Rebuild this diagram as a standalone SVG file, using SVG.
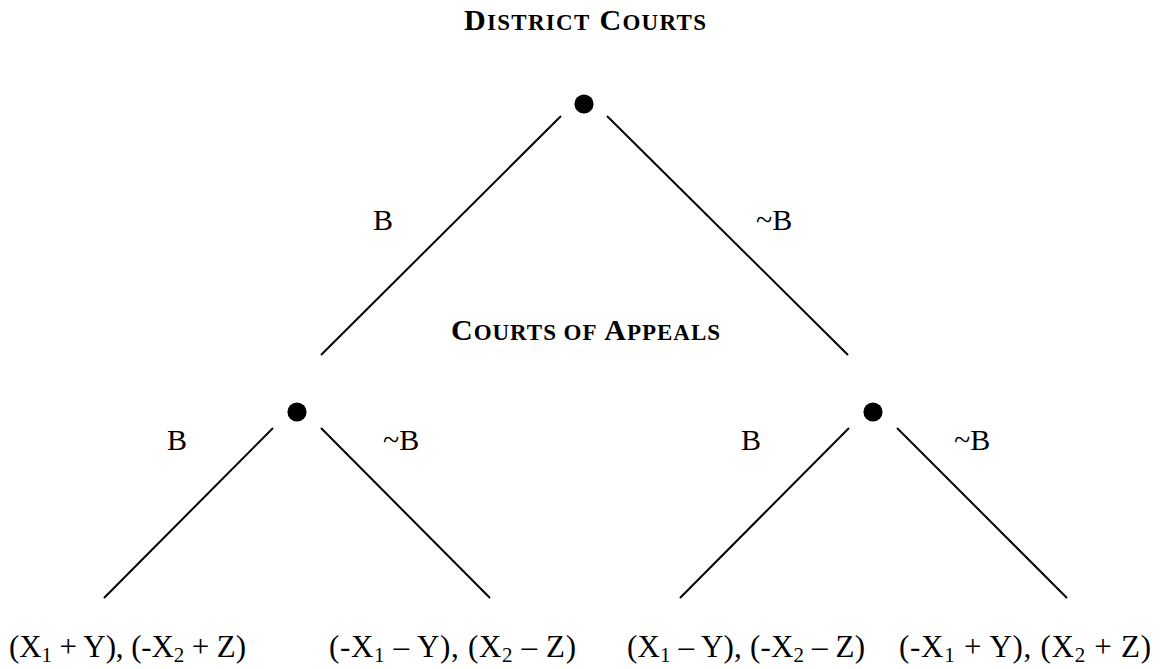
<svg xmlns="http://www.w3.org/2000/svg" width="1163" height="669" viewBox="0 0 1163 669">
<style>
.t{font-family:"Liberation Serif","Times New Roman",serif;fill:#000}
.h{font-weight:bold;font-size:30px}
.sc{font-size:23px}
.l{font-size:30px}
.p{font-size:31px}
.sub{font-size:21px}
.e{stroke:#000;stroke-width:2;fill:none}
</style>
<rect width="1163" height="669" fill="#fff"/>
<g id="title-district">
<text class="t h" x="464" y="30" textLength="242" lengthAdjust="spacing">D<tspan class="sc">ISTRICT</tspan> C<tspan class="sc">OURTS</tspan></text>
</g>
<g id="title-appeals">
<text class="t h" x="451" y="340" textLength="269" lengthAdjust="spacing">C<tspan class="sc">OURTS OF</tspan> A<tspan class="sc">PPEALS</tspan></text>
</g>
<g id="connectors">
<line class="e" x1="561" y1="116" x2="321" y2="355"/>
<line class="e" x1="607" y1="116" x2="848" y2="355"/>
<line class="e" x1="273" y1="428" x2="104" y2="598"/>
<line class="e" x1="321" y1="428" x2="490" y2="598"/>
<line class="e" x1="849" y1="428" x2="680" y2="598"/>
<line class="e" x1="897" y1="428" x2="1067" y2="598"/>
</g>
<g id="edge-labels">
<text class="t l" x="373" y="230">B</text>
<text class="t l" x="756" y="230">~B</text>
<text class="t l" x="167" y="450">B</text>
<text class="t l" x="383" y="450">~B</text>
<text class="t l" x="741" y="450">B</text>
<text class="t l" x="954" y="450">~B</text>
</g>
<g id="node-root"><circle cx="584" cy="104" r="9.6"/></g>
<g id="node-left"><circle cx="297" cy="412" r="9.6"/></g>
<g id="node-right"><circle cx="873" cy="412" r="9.6"/></g>
<g id="payoff-1"><text class="t p" x="9" y="657" textLength="237" lengthAdjust="spacing">(X<tspan class="sub" dy="5">1</tspan><tspan dy="-5"> + Y), (-X</tspan><tspan class="sub" dy="5">2</tspan><tspan dy="-5"> + Z)</tspan></text></g>
<g id="payoff-2"><text class="t p" x="329" y="657" textLength="247" lengthAdjust="spacing">(-X<tspan class="sub" dy="5">1</tspan><tspan dy="-5"> – Y), (X</tspan><tspan class="sub" dy="5">2</tspan><tspan dy="-5"> – Z)</tspan></text></g>
<g id="payoff-3"><text class="t p" x="627" y="657" textLength="238" lengthAdjust="spacing">(X<tspan class="sub" dy="5">1</tspan><tspan dy="-5"> – Y), (-X</tspan><tspan class="sub" dy="5">2</tspan><tspan dy="-5"> – Z)</tspan></text></g>
<g id="payoff-4"><text class="t p" x="899" y="657" textLength="252" lengthAdjust="spacing">(-X<tspan class="sub" dy="5">1</tspan><tspan dy="-5"> + Y), (X</tspan><tspan class="sub" dy="5">2</tspan><tspan dy="-5"> + Z)</tspan></text></g>
</svg>
